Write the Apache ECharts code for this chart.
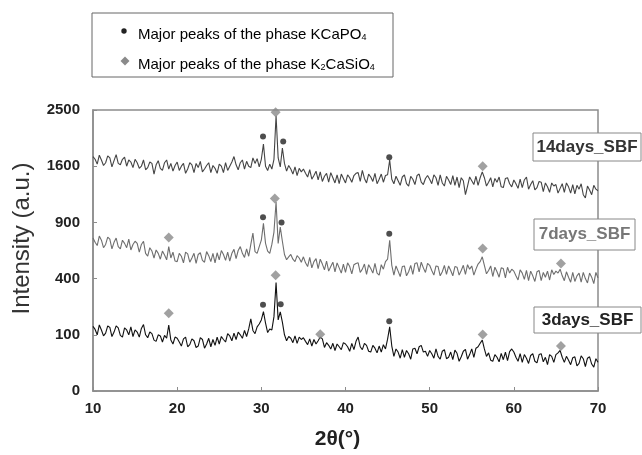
<!DOCTYPE html>
<html>
<head>
<meta charset="utf-8">
<script src="https://cdn.jsdelivr.net/npm/echarts@6/dist/echarts.min.js"></script>
<style>
html, body { margin: 0; padding: 0; background: #fff; }
#chart { width: 642px; height: 455px; }
</style>
</head>
<body>
<div id="chart"></div>
<script>
// XRD scans, step 0.25 deg from 10 to 70, intensity in a.u.
var angleStart = 10;
var angleStep = 0.25;

var scan14 = [
    1740, 1700, 1630, 1760, 1690, 1610, 1650, 1750, 1720, 1590, 1680, 1770, 1640, 1620, 1700, 1730, 1600, 1690, 1660, 1580,
    1700, 1650, 1570, 1600, 1690, 1550, 1580, 1660, 1640, 1490, 1620, 1680, 1570, 1540, 1650, 1690, 1560, 1640, 1530, 1610,
    1660, 1540, 1600, 1640, 1500, 1560, 1650, 1620, 1510, 1640, 1580, 1670, 1520, 1560, 1610, 1650, 1510, 1610, 1570, 1500,
    1630, 1600, 1510, 1650, 1540, 1600, 1660, 1740, 1620, 1550, 1650, 1690, 1560, 1670, 1600, 1580, 1720, 1640, 1710, 1590,
    1700, 1930, 1600, 1540, 1630, 1560, 1700, 2400, 1720, 1590, 1870, 1640, 1530, 1610, 1560, 1490, 1590, 1470, 1570, 1520,
    1560, 1500, 1450, 1550, 1420, 1470, 1530, 1410, 1520, 1390, 1460, 1500, 1380, 1510, 1440, 1370, 1480, 1360, 1490, 1430,
    1370, 1480, 1440, 1380, 1470, 1500, 1510, 1390, 1540, 1430, 1370, 1490, 1450, 1390, 1500, 1360, 1420, 1490, 1380, 1470,
    1480, 1690, 1420, 1360, 1460, 1400, 1340, 1450, 1480, 1360, 1330, 1460, 1420, 1350, 1470, 1490, 1380, 1350, 1430, 1470,
    1420, 1360, 1480, 1440, 1340, 1480, 1370, 1330, 1460, 1410, 1350, 1470, 1340, 1450, 1310, 1440, 1400, 1220, 1330, 1450,
    1400, 1350, 1460, 1340, 1440, 1520, 1440, 1330, 1380, 1440, 1320, 1430, 1380, 1450, 1320, 1310, 1430, 1440, 1360, 1320,
    1410, 1360, 1300, 1420, 1310, 1410, 1450, 1290, 1350, 1400, 1280, 1310, 1390, 1380, 1260, 1370, 1320, 1250, 1370, 1330,
    1350, 1240, 1300, 1360, 1250, 1370, 1320, 1240, 1350, 1230, 1340, 1290, 1360, 1220, 1180, 1330, 1280, 1220, 1340, 1290,
    1270
];

var scan7 = [
    740, 700, 670, 760, 720, 650, 680, 750, 730, 640, 700, 740, 660, 640, 720, 690, 650, 730, 630, 680,
    710, 690, 610, 680, 710, 600, 575, 650, 620, 560, 630, 600, 550, 620, 585, 545, 660, 560, 610, 535,
    530, 600, 575, 520, 610, 595, 525, 560, 600, 515, 590, 605, 540, 525, 615, 580, 530, 600, 520, 605,
    545, 625, 590, 540, 610, 535, 600, 635, 555, 625, 660, 600, 565, 640, 575, 680, 790, 615, 600, 660,
    720, 890, 690, 620, 600, 680, 800, 1130, 690, 850, 710, 590, 545, 570, 590, 550, 530, 580, 560, 525,
    570, 520, 490, 565, 480, 530, 555, 475, 550, 510, 465, 535, 455, 490, 525, 450, 520, 480, 440, 510,
    445, 520, 490, 435, 505, 515, 520, 445, 470, 510, 430, 505, 475, 440, 515, 440, 425, 505, 470, 530,
    550, 720, 500, 425, 495, 455, 415, 490, 495, 420, 450, 500, 430, 515, 520, 450, 525, 480, 445, 515,
    500, 460, 425, 495, 490, 420, 450, 500, 430, 495, 460, 420, 490, 485, 425, 460, 500, 430, 505, 470,
    495, 425, 470, 510, 530, 570, 500, 435, 460, 495, 415, 485, 450, 410, 480, 475, 405, 485, 440, 470,
    455, 420, 390, 465, 440, 395, 460, 385, 455, 420, 380, 450, 460, 385, 445, 410, 455, 390, 465, 430,
    455, 440, 470, 420, 385, 450, 410, 375, 445, 380, 420, 440, 375, 445, 400, 370, 440, 410, 365, 445,
    405
];

var scan3 = [
    132, 120, 100, 138, 118, 96, 106, 134, 128, 94, 110, 134, 126, 98, 92, 126, 118, 100, 130, 94,
    118, 110, 92, 124, 140, 100, 90, 110, 104, 82, 78, 100, 96, 76, 98, 88, 138, 82, 70, 92,
    88, 76, 64, 86, 92, 62, 68, 86, 80, 60, 64, 90, 84, 58, 70, 88, 62, 84, 66, 92,
    70, 94, 84, 76, 104, 96, 80, 106, 84, 110, 100, 88, 116, 94, 122, 165, 116, 104, 130, 142,
    160, 200, 146, 108, 122, 118, 175, 372, 160, 198, 150, 100, 80, 94, 88, 74, 96, 72, 92, 84,
    90, 78, 68, 86, 64, 84, 70, 80, 92, 86, 60, 74, 66, 56, 72, 52, 70, 62, 54, 74,
    70, 62, 50, 72, 54, 78, 92, 62, 54, 72, 66, 50, 48, 66, 58, 46, 64, 48, 68, 56,
    85, 130, 64, 38, 56, 48, 34, 54, 36, 52, 44, 32, 56, 58, 44, 62, 66, 48, 50, 38,
    52, 44, 34, 56, 38, 32, 50, 54, 33, 36, 48, 31, 53, 45, 28, 37, 50, 55, 32, 42,
    56, 36, 58, 62, 72, 82, 56, 38, 46, 30, 28, 42, 36, 27, 45, 31, 48, 29, 49, 56,
    48, 36, 28, 44, 26, 42, 34, 24, 40, 44, 28, 25, 42, 44, 27, 36, 22, 42, 38, 26,
    42, 46, 52, 36, 26, 38, 30, 22, 35, 37, 20, 24, 39, 33, 19, 34, 37, 23, 18, 33,
    26
];

// peak markers [2theta, intensity]
var phosphatePeaks = [
    [30.2, 2052], [32.6, 1972], [45.2, 1730],
    [30.2, 955], [32.4, 900], [45.2, 784],
    [30.2, 236], [32.3, 238], [45.2, 154]
];
var silicatePeaks = [
    [31.7, 2460], [56.3, 1600],
    [19.0, 747], [31.6, 1174], [56.3, 642], [65.6, 514],
    [19.0, 191], [31.7, 424], [37.0, 102], [56.3, 101], [65.6, 64]
];

var xTicks = [10, 20, 30, 40, 50, 60, 70];
var yTicks = [0, 100, 400, 900, 1600, 2500];

// y axis is drawn on a square-root scale
function toPoints(values) {
    return values.map(function(v, i) {
        return [angleStart + i * angleStep, Math.sqrt(v)];
    });
}
function toRootPoints(pairs) {
    return pairs.map(function(p) {
        return [p[0], Math.sqrt(p[1])];
    });
}

var axisColor = '#8c8c8c';
var labelFont = {
    fontFamily: 'Liberation Sans',
    fontSize: 15,
    fontWeight: 'bold',
    color: '#222'
};

var myChart = echarts.init(document.getElementById('chart'));

function labelBox(x, y, w, h, text, color) {
    return {
        type: 'group',
        children: [{
            type: 'rect',
            shape: { x: x, y: y, width: w, height: h },
            style: { fill: '#fff', stroke: '#888', lineWidth: 1 }
        }, {
            type: 'text',
            style: {
                x: x + w / 2,
                y: y + h / 2,
                text: text,
                align: 'center',
                verticalAlign: 'middle',
                font: 'bold 17px "Liberation Sans"',
                fill: color
            }
        }]
    };
}

var legendRich = {
    a: { fontSize: 15, fontFamily: 'Liberation Sans', color: '#222', lineHeight: 20, verticalAlign: 'bottom' },
    s: { fontSize: 9, fontFamily: 'Liberation Sans', color: '#222', lineHeight: 9, verticalAlign: 'bottom' }
};

var option = {
    animation: false,
    backgroundColor: '#fff',
    grid: {
        left: 93,
        right: 44,
        top: 110,
        bottom: 64,
        show: true,
        borderColor: axisColor,
        borderWidth: 1.5,
        outerBoundsMode: 'none'
    },
    xAxis: {
        type: 'value',
        min: 10,
        max: 70,
        interval: 10,
        name: '2θ(°)',
        nameLocation: 'middle',
        nameGap: 38,
        nameTextStyle: {
            fontFamily: 'Liberation Sans',
            fontSize: 21,
            fontWeight: 'bold',
            color: '#222',
            padding: [0, 16, 0, 0]
        },
        axisLine: { lineStyle: { color: axisColor, width: 1.5 } },
        axisTick: { inside: true, length: 4, lineStyle: { color: axisColor } },
        axisLabel: Object.assign({ margin: 10, formatter: function(v) {
            return xTicks.indexOf(v) >= 0 ? v : '';
        } }, labelFont),
        splitLine: { show: false }
    },
    yAxis: {
        type: 'value',
        min: 0,
        max: 50,
        interval: 10,
        name: 'Intensity (a.u.)',
        nameLocation: 'middle',
        nameGap: 59,
        nameTextStyle: {
            fontFamily: 'Liberation Sans',
            fontSize: 24,
            color: '#333',
            padding: [0, 0, 0, 24]
        },
        axisLine: { show: true, lineStyle: { color: axisColor, width: 1.5 } },
        axisTick: { show: true, inside: true, length: 4, lineStyle: { color: axisColor } },
        axisLabel: Object.assign({ margin: 13, formatter: function(v) {
            return yTicks[Math.round(v / 10)];
        } }, labelFont),
        splitLine: { show: false }
    },
    series: [{
        name: '14days_SBF',
        type: 'line',
        data: toPoints(scan14),
        showSymbol: false,
        lineStyle: { color: '#444', width: 1.1 }
    }, {
        name: '7days_SBF',
        type: 'line',
        data: toPoints(scan7),
        showSymbol: false,
        lineStyle: { color: '#6e6e6e', width: 1.1 }
    }, {
        name: '3days_SBF',
        type: 'line',
        data: toPoints(scan3),
        showSymbol: false,
        lineStyle: { color: '#111', width: 1.1 }
    }, {
        name: 'KCaPO4',
        type: 'scatter',
        data: toRootPoints(phosphatePeaks),
        symbol: 'circle',
        symbolSize: 6,
        itemStyle: { color: '#222' },
        z: 5
    }, {
        name: 'K2CaSiO4',
        type: 'scatter',
        data: toRootPoints(silicatePeaks),
        symbol: 'diamond',
        symbolSize: 10,
        itemStyle: { color: '#8a8a8a' },
        z: 5
    }],
    graphic: [{
        type: 'rect',
        shape: { x: 92, y: 13, width: 301, height: 64 },
        style: { fill: '#fff', stroke: '#666', lineWidth: 1 }
    }, {
        type: 'circle',
        shape: { cx: 124, cy: 31, r: 2.7 },
        style: { fill: '#222' }
    }, {
        type: 'polygon',
        shape: { points: [[125, 56.5], [129.5, 61], [125, 65.5], [120.5, 61]] },
        style: { fill: '#8a8a8a' }
    }, {
        type: 'text',
        style: {
            x: 138,
            y: 32,
            text: '{a|Major peaks of the phase KCaPO}{s|4}',
            verticalAlign: 'middle',
            rich: legendRich
        }
    }, {
        type: 'text',
        style: {
            x: 138,
            y: 62,
            text: '{a|Major peaks of the phase K}{s|2}{a|CaSiO}{s|4}',
            verticalAlign: 'middle',
            rich: legendRich
        }
    },
        labelBox(533, 133, 108, 28, '14days_SBF', '#333'),
        labelBox(534, 219, 101, 31, '7days_SBF', '#777'),
        labelBox(534, 307, 107, 26, '3days_SBF', '#222')
    ]
};
myChart.setOption(option);
</script>
</body>
</html>
